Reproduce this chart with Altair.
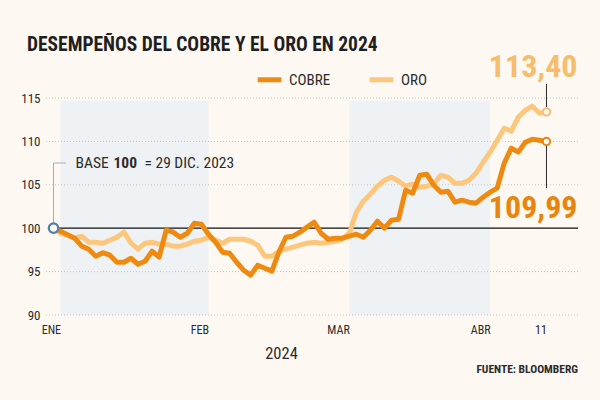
import altair as alt
import pandas as pd

FONT = "Roboto Condensed, Roboto, sans-serif"
BG = "#fdf8f2"
C_COBRE = "#ef8a10"
C_ORO = "#fcc77c"
C_COBRE_TXT = "#e8850e"
C_ORO_TXT = "#f5bd6c"
SHADE = "#eff2f4"
INK = "#2b2b2b"

# Trading days (base day + 2024 sessions up to April 11)
feriados = ["2024-01-15", "2024-02-19", "2024-03-29"]
fechas = ["2023-12-29"] + [
    d.strftime("%Y-%m-%d")
    for d in pd.bdate_range("2024-01-02", "2024-04-11")
    if d.strftime("%Y-%m-%d") not in feriados
]

cobre = [
    100.00, 99.65, 99.25, 98.85, 97.93, 97.58, 96.77, 97.18, 96.89, 96.08,
    96.08, 96.54, 95.85, 96.20, 97.35, 96.66, 99.77, 99.54, 98.96, 99.42,
    100.58, 100.46, 99.30, 98.39, 97.24, 97.12, 96.08, 95.16, 94.59, 95.74,
    95.39, 95.05, 97.24, 98.96, 99.08, 99.54, 100.12, 100.69, 99.42, 98.73,
    98.85, 98.85, 99.08, 99.31, 98.96, 99.77, 100.81, 100.00, 100.92, 101.04,
    104.38, 104.03, 106.10, 106.22, 104.95, 104.15, 104.26, 103.00, 103.23, 103.00,
    102.88, 103.57, 104.15, 104.61, 107.49, 109.22, 108.76, 109.91, 110.25, 110.14,
    109.99,
]
oro = [
    100.00, 99.42, 99.19, 98.85, 99.08, 98.39, 98.39, 98.27, 98.62, 98.96,
    99.54, 98.27, 97.58, 98.27, 98.39, 98.16, 98.16, 97.93, 97.93, 98.16,
    98.50, 98.62, 98.96, 98.62, 98.27, 98.73, 98.73, 98.73, 98.50, 98.04,
    96.77, 96.77, 97.35, 97.58, 97.81, 98.04, 98.27, 98.39, 98.27, 98.39,
    98.50, 98.73, 99.42, 101.84, 103.11, 103.92, 104.84, 105.53, 105.88, 105.41,
    104.84, 105.07, 104.72, 104.84, 105.07, 106.10, 105.88, 105.18, 105.18, 105.53,
    106.34, 107.60, 108.76, 110.14, 111.52, 111.18, 112.79, 113.59, 114.06, 113.25,
    113.40,
]
series = ["COBRE", "ORO"]

ticks_y = [90, 95, 105, 110, 115]
labels_y = [90, 95, 100, 105, 110, 115]
ticks_x = ["2024-01-02", "2024-02-01", "2024-03-01", "2024-04-01", "2024-04-11"]
etiquetas_x = ["ENE", "FEB", "MAR", "ABR", "11"]
sombra_ini = ["2024-01-02", "2024-03-01"]
sombra_fin = ["2024-02-01", "2024-04-01"]
base_valor = 100
base_texto = ["BASE", "100", "= 29 DIC. 2023"]

n = len(fechas)
assert len(cobre) == n and len(oro) == n

df = pd.DataFrame({
    "fecha": fechas * 2,
    "valor": cobre + oro,
    "serie": ["COBRE"] * n + ["ORO"] * n,
})

label_expr = " : ".join(
    f"datum.value == '{v}' ? '{t}'" for v, t in zip(ticks_x, etiquetas_x)
) + " : ''"

xscale = alt.Scale(type="point", domain=fechas, range=[5, 505])

x_enc = alt.X(
    "fecha:O",
    scale=xscale,
    axis=alt.Axis(
        values=ticks_x, labelExpr=label_expr, ticks=False, domain=False, grid=False,
        labelAngle=0, labelFont=FONT, labelFontSize=12, labelColor=INK,
        labelPadding=14, title="2024", titleFont=FONT, titleFontSize=16.5,
        titleFontWeight="normal", titleColor=INK, titleX=236, titleY=43,
        titleAlign="center", titleBaseline="alphabetic",
    ),
)
yscale = alt.Scale(domain=[90, 115])
y_enc = alt.Y(
    "valor:Q",
    scale=yscale,
    axis=alt.Axis(
        values=labels_y, grid=False, ticks=False, domain=False, labelPadding=5,
        labelFont=FONT, labelFontSize=13, labelColor=INK, title=None,
    ),
)

# shading of months
sh = pd.DataFrame({"fecha": sombra_ini, "fin": sombra_fin})
shade = alt.Chart(sh).mark_rect(color=SHADE).encode(
    x=alt.X("fecha:O", scale=xscale), x2="fin", y=alt.value(3), y2=alt.value(217)
)

grid = alt.Chart(pd.DataFrame({"valor": ticks_y})).mark_rule(
    color="#c9c6c0", strokeDash=[1, 2], strokeWidth=1
).encode(y=alt.Y("valor:Q", scale=yscale))

base_df = pd.DataFrame({"fecha": [fechas[0]], "valor": [base_valor]})
rule100 = alt.Chart(base_df).mark_rule(color="#111111", strokeWidth=1.2).encode(
    x=alt.X("fecha:O", scale=xscale), x2=alt.value(533), y=alt.Y("valor:Q", scale=yscale)
)

lead_v = alt.Chart(base_df).mark_rule(color="#9fb0bc", strokeWidth=1).encode(
    x=alt.X("fecha:O", scale=xscale), y=alt.value(65), y2=alt.value(126)
)
lead_h = alt.Chart(base_df).mark_rule(color="#9fb0bc", strokeWidth=1).encode(
    x=alt.X("fecha:O", scale=xscale), x2=alt.value(21), y=alt.value(65)
)

legend = alt.Legend(
    orient="none", legendX=210, legendY=-33, direction="horizontal", title=None,
    symbolType="stroke", symbolStrokeWidth=5, symbolSize=560,
    labelFont=FONT, labelFontSize=15, labelColor=INK, columnPadding=28, labelOffset=5,
)
color = alt.Color(
    "serie:N", scale=alt.Scale(domain=series, range=[C_COBRE, C_ORO]), legend=legend
)

line_oro = alt.Chart(df[df.serie == "ORO"]).mark_line(
    strokeWidth=5, strokeJoin="round", strokeCap="round"
).encode(x=x_enc, y=y_enc, color=color)
line_cobre = alt.Chart(df[df.serie == "COBRE"]).mark_line(
    strokeWidth=5, strokeJoin="round", strokeCap="round"
).encode(x=x_enc, y=y_enc, color=color)

end_df = pd.DataFrame({
    "fecha": [fechas[-1], fechas[-1]],
    "valor": [oro[-1], cobre[-1]],
    "serie": ["ORO", "COBRE"],
})
end_df["texto"] = [f"{v:.2f}".replace(".", ",") for v in end_df.valor]
end_oro = end_df[end_df.serie == "ORO"]
end_cob = end_df[end_df.serie == "COBRE"]

lead_oro = alt.Chart(end_oro).mark_rule(color=INK, strokeWidth=1).encode(
    x=alt.X("fecha:O", scale=xscale), y=alt.value(-14), y2=alt.value(9)
)
lead_cob = alt.Chart(end_cob).mark_rule(color=INK, strokeWidth=1).encode(
    x=alt.X("fecha:O", scale=xscale), y=alt.value(48), y2=alt.value(90)
)

pt_oro = alt.Chart(end_oro).mark_point(
    filled=False, fill=BG, fillOpacity=1, stroke=C_ORO_TXT, strokeWidth=2, size=55, opacity=1
).encode(x=alt.X("fecha:O", scale=xscale), y=alt.Y("valor:Q", scale=yscale))
pt_cob = alt.Chart(end_cob).mark_point(
    filled=False, fill=BG, fillOpacity=1, stroke=C_COBRE_TXT, strokeWidth=2, size=55, opacity=1
).encode(x=alt.X("fecha:O", scale=xscale), y=alt.Y("valor:Q", scale=yscale))
pt_base = alt.Chart(base_df).mark_point(
    filled=False, fill=BG, fillOpacity=1, stroke="#4f80a8", strokeWidth=2.2, size=90, opacity=1
).encode(x=alt.X("fecha:O", scale=xscale), y=alt.Y("valor:Q", scale=yscale))

txt_oro = alt.Chart(end_oro).mark_text(
    font=FONT, fontSize=32, fontWeight="bold", color=C_ORO_TXT, align="right",
    baseline="alphabetic", dx=31, dy=-35
).encode(x=alt.X("fecha:O", scale=xscale), y=alt.Y("valor:Q", scale=yscale), text="texto:N")
txt_cob = alt.Chart(end_cob).mark_text(
    font=FONT, fontSize=32, fontWeight="bold", color=C_COBRE_TXT, align="right",
    baseline="alphabetic", dx=31, dy=77
).encode(x=alt.X("fecha:O", scale=xscale), y=alt.Y("valor:Q", scale=yscale), text="texto:N")

base_txt = []
for t, dx, w in zip(base_texto, [22, 60, 91], ["normal", "bold", "normal"]):
    base_txt.append(
        alt.Chart(base_df).mark_text(
            text=t, font=FONT, fontSize=15.5, fontWeight=w, color=INK, align="left",
            baseline="middle", dx=dx
        ).encode(x=alt.X("fecha:O", scale=xscale), y=alt.value(65))
    )

title = alt.Chart(base_df).mark_text(
    text="DESEMPEÑOS DEL COBRE Y EL ORO EN 2024", font=FONT, fontSize=19.5,
    fontWeight="bold", color="#1f1f1f", align="left", baseline="middle"
).encode(x=alt.value(-18), y=alt.value(-53))

fuente = alt.Chart(base_df).mark_text(
    text="FUENTE: BLOOMBERG", font=FONT, fontSize=11.5, fontWeight="bold", color=INK,
    align="right", baseline="middle"
).encode(x=alt.value(533), y=alt.value(272))

chart = alt.layer(
    shade, grid, rule100, lead_v, lead_h, line_oro, line_cobre,
    lead_oro, lead_cob, pt_oro, pt_cob, pt_base, txt_oro, txt_cob,
    *base_txt, title, fuente,
).properties(
    width=533, height=217,
    padding={"left": 45, "top": 98, "right": 22, "bottom": 85},
    autosize=alt.AutoSizeParams(type="none"),
    background=BG,
).configure_view(stroke=None)

chart.save("out.html", embed_options={"renderer": "svg", "actions": False})
